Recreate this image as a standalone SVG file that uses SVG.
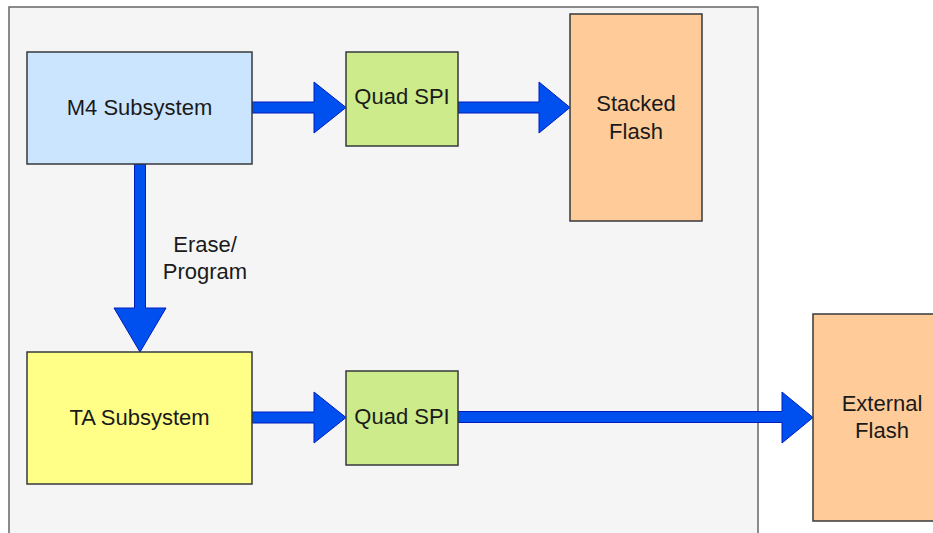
<svg xmlns="http://www.w3.org/2000/svg" width="933" height="533" viewBox="0 0 933 533">
<style>
.box{stroke:#36393d;stroke-width:1.5}
.lbl{font-family:"Liberation Sans",Arial,sans-serif;font-size:22px;fill:#1a1a1a;text-anchor:middle}
.arr{fill:#0050ef;stroke:#001dbc;stroke-width:1;stroke-linejoin:miter}
</style>
<rect width="933" height="533" fill="#ffffff"/>
<g id="container">
<rect x="9" y="7" width="749" height="540" fill="#f5f5f5" stroke="#666666" stroke-width="1.5"/>
</g>
<g id="connectors">
<polygon class="arr" points="252,102 314,102 314,82 346,107.5 314,133 314,113 252,113"/>
<polygon class="arr" points="458,102 539,102 539,82 570,107.5 539,133 539,113 458,113"/>
<polygon class="arr" points="134.5,164 145.5,164 145.5,308 166,308 140,352 114,308 134.5,308"/>
<polygon class="arr" points="252,412 314,412 314,392 346,417.5 314,443 314,423 252,423"/>
<polygon class="arr" points="458,411.5 782,411.5 782,392 813,417.5 782,443 782,422.5 458,422.5"/>
<text class="lbl" x="205" y="252">Erase/</text>
<text class="lbl" x="205" y="279">Program</text>
</g>
<g id="m4">
<rect class="box" x="27" y="52" width="225" height="112" fill="#cce5ff"/>
<text class="lbl" x="139.5" y="115">M4 Subsystem</text>
</g>
<g id="qspi1">
<rect class="box" x="346" y="52" width="112" height="94" fill="#cdeb8b"/>
<text class="lbl" x="402" y="104">Quad SPI</text>
</g>
<g id="stacked">
<rect class="box" x="570" y="14" width="132" height="207" fill="#ffcc99"/>
<text class="lbl" x="636" y="110.5">Stacked</text>
<text class="lbl" x="636" y="138.5">Flash</text>
</g>
<g id="ta">
<rect class="box" x="27" y="352" width="225" height="132" fill="#ffff88"/>
<text class="lbl" x="139.5" y="425">TA Subsystem</text>
</g>
<g id="qspi2">
<rect class="box" x="346" y="371" width="112" height="94" fill="#cdeb8b"/>
<text class="lbl" x="402" y="424">Quad SPI</text>
</g>
<g id="external">
<rect class="box" x="813" y="314" width="138" height="207" fill="#ffcc99"/>
<text class="lbl" x="882" y="411">External</text>
<text class="lbl" x="882" y="438">Flash</text>
</g>
</svg>
